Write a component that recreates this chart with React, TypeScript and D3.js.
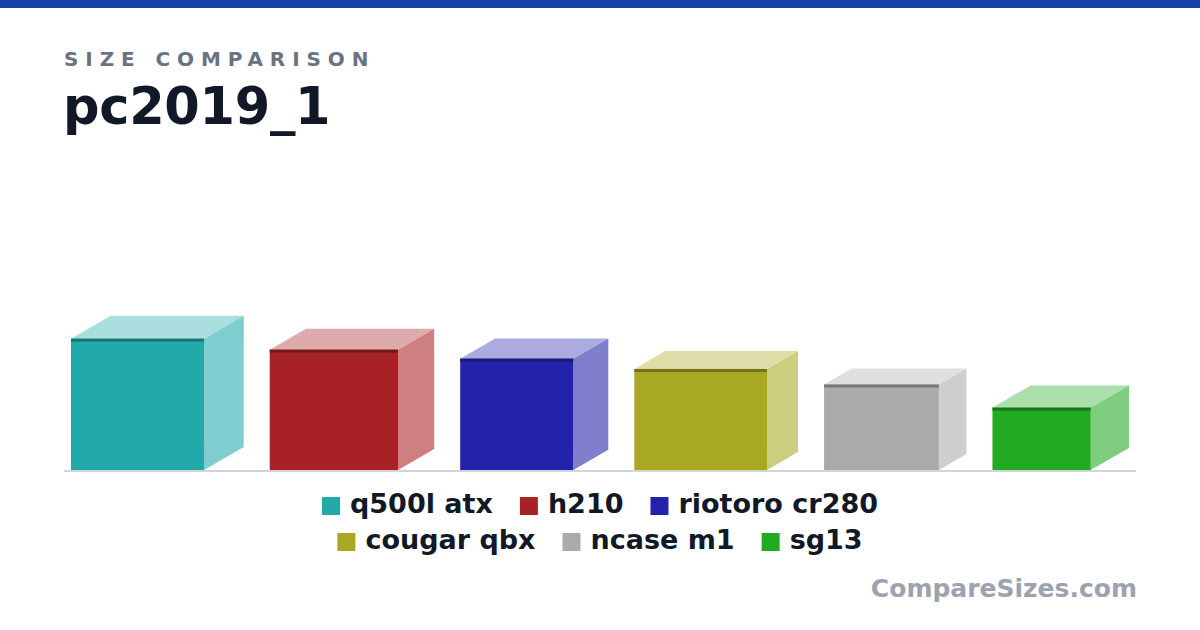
import React, { useEffect, useRef } from 'react';
import * as d3 from 'd3';

// case dimensions in mm: length (front width), width (depth), height
const names = ['q500l atx', 'h210', 'riotoro cr280', 'cougar qbx', 'ncase m1', 'sg13'];
const lengths = [386, 372, 328, 385, 333, 285];
const depths = [230, 210, 203, 180, 160, 222];
const heights = [381, 349, 323, 293, 248, 181];
const colors = ['#22A9AA', '#A82225', '#2322AA', '#A9A823', '#AAAAAA', '#22AA22'];
const legendRows = [[0, 1, 2], [3, 4, 5]];

const FONT = "'DejaVu Sans', sans-serif";

export default function App() {
  const svgRef = useRef<SVGSVGElement>(null);

  useEffect(() => {
    if (!svgRef.current) return;
    document.body.style.margin = '0';
    const width = 1200;
    const height = 630;
    const svg = d3.select(svgRef.current);
    svg.selectAll('*').remove();

    svg.append('rect').attr('width', width).attr('height', height).attr('fill', '#fff');
    svg.append('rect').attr('width', width).attr('height', 8).attr('fill', '#1540A8');

    svg.append('text')
      .attr('x', 64).attr('y', 66)
      .attr('font-family', FONT).attr('font-size', 20).attr('font-weight', 'bold')
      .attr('letter-spacing', 6.9)
      .attr('fill', '#6B7280')
      .text('SIZE COMPARISON');

    svg.append('text')
      .attr('x', 63).attr('y', 124)
      .attr('font-family', FONT).attr('font-size', 51).attr('font-weight', 'bold')
      .attr('letter-spacing', -0.3)
      .attr('fill', '#111827')
      .text('pc2019_1');

    // boxes
    const left = 64, right = 1136, base = 470, gap = 26, pad = 7;
    const depthRatio = 0.5;
    const units = d3.sum(lengths) + depthRatio * d3.sum(depths);
    const avail = right - left - 2 * pad - gap * (names.length - 1);
    const s = d3.scaleLinear().domain([0, units]).range([0, avail]);
    const totalW = d3.sum(names, (_, i) => s(lengths[i]) + s(depths[i] * depthRatio)) + gap * (names.length - 1);

    let x = (left + right) / 2 - totalW / 2;
    const g = svg.append('g');
    names.forEach((_, i) => {
      const w = s(lengths[i]);
      const h = s(heights[i]);
      const dx = s(depths[i] * depthRatio);
      const dy = dx * 0.577;
      const top = base - h;
      const c = colors[i];
      const topC = d3.interpolateRgb(c, '#fff')(0.62);
      const sideC = d3.interpolateRgb(c, '#fff')(0.42);
      const darkC = d3.color(c)!.darker(1).toString();
      const pts = (p: number[][]) => p.map(q => q.join(',')).join(' ');

      g.append('polygon')
        .attr('points', pts([[x, top], [x + dx, top - dy], [x + w + dx, top - dy], [x + w, top]]))
        .attr('fill', topC);
      g.append('polygon')
        .attr('points', pts([[x + w, top], [x + w + dx, top - dy], [x + w + dx, base - dy], [x + w, base]]))
        .attr('fill', sideC);
      g.append('rect')
        .attr('x', x).attr('y', top).attr('width', w).attr('height', h)
        .attr('fill', c);
      g.append('rect')
        .attr('x', x).attr('y', top).attr('width', w).attr('height', 3)
        .attr('fill', darkC);
      x += w + dx + gap;
    });

    svg.append('line')
      .attr('x1', left).attr('x2', right)
      .attr('y1', base + 1).attr('y2', base + 1)
      .attr('stroke', '#D1D5DB').attr('stroke-width', 2);

    // legend
    const legend = svg.append('g');
    const sw = 18, swGap = 10, itemGap = 27, fs = 27;
    legendRows.forEach((row, r) => {
      const ry = 513 + r * 36;
      const rowG = legend.append('g');
      let lx = 0;
      row.forEach(i => {
        rowG.append('rect')
          .attr('x', lx).attr('y', ry - 16).attr('width', sw).attr('height', sw)
          .attr('fill', colors[i]);
        const t = rowG.append('text')
          .attr('x', lx + sw + swGap).attr('y', ry)
          .attr('font-family', FONT).attr('font-size', fs).attr('font-weight', 'bold')
          .attr('fill', '#111827')
          .text(names[i]);
        const tw = (t.node() as SVGTextElement).getComputedTextLength();
        lx += sw + swGap + tw + itemGap;
      });
      const rowW = lx - itemGap;
      rowG.attr('transform', `translate(${width / 2 - rowW / 2},0)`);
    });

    svg.append('text')
      .attr('x', 1137).attr('y', 597)
      .attr('text-anchor', 'end')
      .attr('font-family', FONT).attr('font-size', 25).attr('font-weight', 'bold')
      .attr('fill', '#9CA3AF')
      .text('CompareSizes.com');
  }, []);

  return (
    <svg
      ref={svgRef}
      width={1200}
      height={630}
      style={{ display: 'block', position: 'absolute', left: 0, top: 0 }}
    />
  );
}
